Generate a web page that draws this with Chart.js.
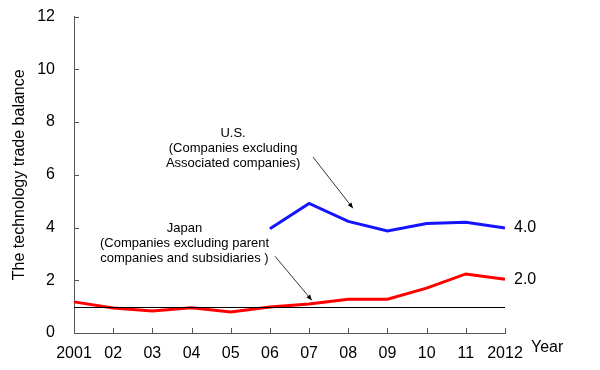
<!DOCTYPE html>
<html><head><meta charset="utf-8">
<script src="https://cdn.jsdelivr.net/npm/chart.js@4/dist/chart.umd.min.js"></script>
<style>html,body{margin:0;padding:0;background:#fff}#wrap{width:600px;height:370px}</style>
</head><body><div id="wrap"><canvas id="c" width="600" height="370"></canvas></div>
<script>
const years = ['2001','02','03','04','05','06','07','08','09','10','11','2012'];
const japan = [1.18,0.95,0.83,0.96,0.80,0.99,1.10,1.28,1.28,1.70,2.24,2.04];
const us = [null,null,null,null,null,3.95,4.91,4.23,3.87,4.15,4.20,3.98];
const yTicks = [0,2,4,6,8,10,12];
const refValue = 1;
const endLabels = ['4.0','2.0'];

const FONT = "'Liberation Sans', Arial, sans-serif";

const overlay = {
  id:'overlay',
  afterDatasetsDraw(chart){
    const ctx = chart.ctx, x = chart.scales.x, y = chart.scales.y, a = chart.chartArea;
    ctx.save();
    ctx.strokeStyle = '#000'; ctx.lineWidth = 1;
    const yr = Math.round(y.getPixelForValue(refValue)) + 0.5;
    ctx.beginPath(); ctx.moveTo(a.left, yr); ctx.lineTo(a.right, yr); ctx.stroke();
    ctx.strokeStyle = '#555';
    yTicks.forEach(v=>{ const py = Math.round(y.getPixelForValue(v))+0.5; ctx.beginPath(); ctx.moveTo(a.left,py); ctx.lineTo(a.left+5,py); ctx.stroke(); });
    years.forEach((_,i)=>{ const px = Math.round(x.getPixelForValue(i))+0.5; ctx.beginPath(); ctx.moveTo(px,a.bottom); ctx.lineTo(px,a.bottom-5); ctx.stroke(); });
    ctx.restore();
  },
  afterDraw(chart){
    const ctx = chart.ctx, x = chart.scales.x, y = chart.scales.y, a = chart.chartArea;
    ctx.save();
    ctx.fillStyle = '#000';
    ctx.font = '16px ' + FONT; ctx.textAlign='left'; ctx.textBaseline='middle';
    const last = years.length-1;
    ctx.fillText(endLabels[0], x.getPixelForValue(last)+9, y.getPixelForValue(us[last]));
    ctx.fillText(endLabels[1], x.getPixelForValue(last)+9, y.getPixelForValue(japan[last]));
    ctx.fillText('Year', a.right+26, a.bottom+15);
    ctx.font = '13px ' + FONT; ctx.textAlign='center';
    const usx = x.getPixelForValue(4.06), usy = y.getPixelForValue(7.58);
    ['U.S.','(Companies excluding','Associated companies)'].forEach((t,i)=>ctx.fillText(t, usx, usy+i*15));
    const jx = x.getPixelForValue(2.82), jy = y.getPixelForValue(3.96);
    ['Japan','(Companies excluding parent','companies and subsidiaries )'].forEach((t,i)=>ctx.fillText(t, jx, jy+i*15));
    function arrow(i1,v1,i2,v2){
      const x1=x.getPixelForValue(i1), y1=y.getPixelForValue(v1), x2=x.getPixelForValue(i2), y2=y.getPixelForValue(v2);
      ctx.strokeStyle='#000'; ctx.lineWidth=0.8;
      ctx.beginPath(); ctx.moveTo(x1,y1); ctx.lineTo(x2,y2); ctx.stroke();
      const ang=Math.atan2(y2-y1,x2-x1), L=6, w=0.4;
      ctx.beginPath(); ctx.moveTo(x2,y2);
      ctx.lineTo(x2-L*Math.cos(ang-w), y2-L*Math.sin(ang-w));
      ctx.lineTo(x2-L*Math.cos(ang+w), y2-L*Math.sin(ang+w));
      ctx.closePath(); ctx.fill();
    }
    arrow(6.1,6.67,7.12,4.73);
    arrow(5.13,2.91,6.07,1.24);
    ctx.restore();
  }
};

new Chart(document.getElementById('c'), {
  type:'line',
  data:{ labels: years, datasets:[
    {label:'U.S.', data: us, borderColor:'rgb(20,20,255)', borderWidth:3, pointRadius:0, fill:false, tension:0, spanGaps:false},
    {label:'Japan', data: japan, borderColor:'rgb(255,0,0)', borderWidth:3, pointRadius:0, fill:false, tension:0}
  ]},
  options:{
    responsive:false, animation:false, devicePixelRatio:1,
    layout:{padding:{left:0,right:95,top:16.5,bottom:0}},
    plugins:{legend:{display:false}, tooltip:{enabled:false}},
    scales:{
      x:{ offset:false,
        grid:{display:true, drawOnChartArea:false, drawTicks:false},
        border:{display:true, color:'#555', width:1},
        ticks:{color:'#000', font:{family:FONT, size:16}, padding:11, maxRotation:0, autoSkip:false},
        afterFit(s){ s.height = 37; s.paddingLeft = 0; s.paddingRight = 0; }
      },
      y:{ min:0, max:12,
        afterBuildTicks(s){ s.ticks = yTicks.map(v=>({value:v})); },
        grid:{display:true, drawOnChartArea:false, drawTicks:false},
        border:{display:true, color:'#555', width:1},
        ticks:{color:'#000', font:{family:FONT, size:16}, padding:19},
        title:{display:true, text:'The technology trade balance', color:'#000', font:{family:FONT, size:16}, padding:{top:10,bottom:4}},
        afterFit(s){ s.width = 74; s.paddingTop = 0; s.paddingBottom = 0; }
      }
    }
  },
  plugins:[overlay]
});
</script></body></html>
